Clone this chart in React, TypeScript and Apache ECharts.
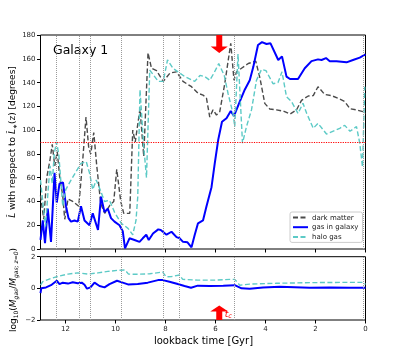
import React, { useEffect, useRef } from "react";
import * as echarts from "echarts";

// lookback-time axis
const tMax = 13.0;
const xTicks = [0, 2, 4, 6, 8, 10, 12];
// vertical event lines (Gyr)
const eventTimes = [12.36, 11.47, 11.02, 9.79, 8.08, 7.46, 5.24, 0.1];
const perpAngle = 90;
const tc = 5.85;

// top panel: angle [deg] vs lookback time [Gyr]
const darkMatter: [number, number][] = [
  [13.0, 45], [12.87, 25], [12.75, 60], [12.62, 75], [12.53, 88], [12.43, 70], [12.33, 82],
  [12.23, 60], [12.11, 45], [12.03, 25], [11.9, 42], [11.71, 40], [11.47, 36], [11.31, 75],
  [11.18, 111], [11.07, 85], [10.99, 80], [10.87, 98], [10.75, 70], [10.59, 38], [10.43, 30],
  [10.22, 37], [10.07, 40], [9.95, 67], [9.79, 40], [9.67, 30], [9.43, 30], [9.31, 100],
  [9.21, 90], [9.02, 118], [8.87, 78], [8.7, 165], [8.56, 152], [8.36, 150], [8.09, 141],
  [7.82, 148], [7.56, 149], [7.3, 141], [6.96, 136.5], [6.7, 131], [6.5, 129.5], [6.36, 126.7],
  [6.23, 111], [6.1, 117], [5.96, 112.7], [5.83, 115.5], [5.63, 139], [5.39, 173], [5.26, 142],
  [5.16, 149], [4.96, 152], [4.69, 156], [4.39, 158], [4.22, 143.6], [4.03, 122.5], [3.83, 117.7],
  [3.56, 117], [3.29, 116], [3.02, 113.5], [2.76, 117], [2.56, 125], [2.29, 128.7], [2.09, 129],
  [1.9, 136.5], [1.63, 130], [1.36, 129], [1.09, 126.7], [0.83, 124], [0.62, 118], [0.36, 117],
  [0.1, 115.5], [0.0, 114],
];
const gasInGalaxy: [number, number][] = [
  [13.0, 7.6], [12.91, 24], [12.82, 5], [12.71, 34], [12.58, 6], [12.44, 64], [12.35, 39],
  [12.24, 55], [12.1, 56], [11.98, 36], [11.88, 26], [11.78, 23], [11.64, 24], [11.51, 23],
  [11.38, 36], [11.24, 24], [11.04, 20], [10.91, 30], [10.7, 16], [10.58, 44], [10.44, 31],
  [10.31, 34], [10.18, 26], [10.04, 23], [9.84, 20], [9.71, 15], [9.62, 0.6], [9.44, 9],
  [9.24, 7.6], [9.04, 6], [8.91, 9], [8.77, 12], [8.67, 7.6], [8.5, 13], [8.29, 16.5],
  [8.19, 16], [7.96, 12], [7.76, 14.5], [7.56, 10], [7.43, 9], [7.3, 6], [7.12, 5.6],
  [6.96, 1.4], [6.83, 12], [6.7, 21.6], [6.5, 24], [6.36, 36], [6.16, 52], [6.03, 72],
  [5.89, 92], [5.74, 107], [5.56, 110], [5.39, 116], [5.26, 112], [5.03, 124], [4.83, 134],
  [4.63, 142], [4.49, 153], [4.3, 171.6], [4.14, 174], [3.96, 172.4], [3.8, 173], [3.49, 159],
  [3.34, 162], [3.16, 145], [3.02, 143], [2.7, 143], [2.43, 152], [2.16, 158], [1.9, 159.5],
  [1.76, 159], [1.58, 160.6], [1.43, 158], [1.16, 158], [0.76, 157], [0.5, 159], [0.23, 161],
  [0.0, 163.7],
];
const haloGas: [number, number][] = [
  [13.0, 58], [12.91, 40], [12.8, 19], [12.71, 45], [12.62, 70], [12.53, 55], [12.45, 80],
  [12.36, 90], [12.27, 80], [12.11, 36], [11.99, 50], [11.78, 58], [11.58, 65], [11.38, 72],
  [11.17, 73.5], [11.04, 64], [10.91, 50], [10.77, 58], [10.58, 48], [10.44, 40], [10.24, 41],
  [10.04, 31], [9.77, 21.6], [9.5, 17.4], [9.31, 12], [9.18, 24], [9.11, 44], [9.02, 134],
  [8.87, 86], [8.76, 60], [8.63, 150.5], [8.29, 141], [8.09, 141], [7.92, 159], [7.7, 152],
  [7.5, 149], [7.23, 145], [6.83, 141], [6.62, 146], [6.43, 145], [6.23, 142], [6.06, 148],
  [5.87, 156], [5.65, 146], [5.5, 131], [5.3, 114], [5.23, 103], [5.1, 164], [4.92, 89],
  [4.76, 103], [4.56, 117], [4.36, 142], [4.16, 151], [3.98, 150], [3.7, 139], [3.5, 140],
  [3.34, 149], [3.16, 128], [2.96, 124], [2.7, 114], [2.5, 122.5], [2.35, 114], [2.09, 101.5],
  [1.9, 105.7], [1.56, 96.7], [1.31, 99], [1.03, 101.5], [0.83, 104], [0.62, 99], [0.36, 103],
  [0.23, 89], [0.12, 69], [0.03, 136.5],
];

// bottom panel: log10(M_gas / M_gas,z=0)
const gasMassGalaxy: [number, number][] = [
  [13.0, -0.3], [12.97, 0], [12.78, 0.06], [12.58, 0.2], [12.35, 0.48], [12.24, 0.27],
  [12.11, 0.36], [11.9, 0.3], [11.71, 0.38], [11.51, 0.32], [11.35, 0.36], [11.24, 0.23],
  [11.14, -0.02], [11.0, 0.06], [10.84, 0.36], [10.64, 0.15], [10.44, 0.06], [10.24, 0.27],
  [9.94, 0.48], [9.71, 0.36], [9.5, 0.25], [9.11, 0.27], [8.71, 0.36], [8.3, 0.52],
  [8.11, 0.52], [7.84, 0.42], [7.51, 0.27], [7.24, 0.15], [6.98, 0.04], [6.71, 0.17],
  [6.23, 0.15], [5.69, 0.17], [5.23, 0.2], [4.96, 0], [4.63, -0.02], [4.1, 0.06], [3.43, 0.1],
  [2.83, 0.07], [2.23, 0.04], [1.43, 0.06], [0.62, 0.04], [0, 0.04],
];
const gasMassHalo: [number, number][] = [
  [13.0, 0.2], [12.91, 0.42], [12.58, 0.63], [12.24, 0.78], [11.9, 0.9], [11.51, 0.98],
  [11.11, 0.9], [10.7, 0.98], [10.31, 1.07], [9.91, 1.14], [9.62, 1.16], [9.48, 0.9],
  [9.11, 0.89], [8.63, 0.92], [8.11, 1.03], [7.98, 0.73], [7.75, 0.75], [7.44, 0.84],
  [7.31, 0.57], [6.71, 0.52], [6.04, 0.52], [5.42, 0.57], [5.23, 0.57], [5.03, 0.2],
  [4.63, 0.27], [3.56, 0.32], [2.23, 0.36], [0.62, 0.38], [0.12, 0.38], [0, 0.25],
];

const FONT = "DejaVu Sans";
const C_DM = "#4a4a4a";
const C_GAS = "#0000ff";
const C_HALO = "#5ccac6";

export default function App() {
  const ref = useRef<HTMLDivElement>(null);
  useEffect(() => {
    const chart = echarts.init(ref.current!, null, { renderer: "svg" });

    const xAxis = (gridIndex: number, showLabels: boolean) => ({
      type: "value",
      gridIndex,
      min: 0,
      max: tMax,
      inverse: true,
      axisLine: { show: false, onZero: false },
      axisTick: { show: true, length: 3.5, lineStyle: { color: "#000", width: 1 }, customValues: xTicks },
      axisLabel: {
        show: showLabels,
        customValues: xTicks,
        fontSize: 7,
        color: "#222",
        margin: 5,
        fontFamily: FONT,
      },
      splitLine: { show: false },
    });

    const vLines = eventTimes.map((t) => ({ xAxis: t }));
    const vLineStyle = { color: "#9a9a9a", type: "dotted", width: 1 };

    chart.setOption({
      animation: false,
      textStyle: { fontFamily: FONT },
      grid: [
        { left: 40.5, top: 35, width: 325, height: 214, show: true, borderColor: "#000", borderWidth: 1 },
        { left: 40.5, top: 256.7, width: 325, height: 63.3, show: true, borderColor: "#000", borderWidth: 1 },
      ],
      xAxis: [xAxis(0, false), xAxis(1, true)],
      yAxis: [
        {
          type: "value",
          gridIndex: 0,
          min: 0,
          max: 180,
          interval: 20,
          axisLine: { show: false, onZero: false },
          axisTick: { show: true, length: 3.5, lineStyle: { color: "#000" } },
          axisLabel: { fontSize: 7, color: "#222", margin: 5, fontFamily: FONT },
          splitLine: { show: false },
        },
        {
          type: "value",
          gridIndex: 1,
          min: -2,
          max: 2,
          interval: 2,
          axisLine: { show: false, onZero: false },
          axisTick: { show: true, length: 3.5, lineStyle: { color: "#000" } },
          axisLabel: {
            fontSize: 7,
            color: "#222",
            margin: 5,
            fontFamily: FONT,
            formatter: (v: number) => String(v).replace("-", "\u2212"),
          },
          splitLine: { show: false },
        },
      ],
      legend: {
        data: ["dark matter", "gas in galaxy", "halo gas"],
        orient: "vertical",
        left: 290,
        top: 212,
        itemWidth: 15,
        itemHeight: 8,
        itemGap: 2.7,
        padding: [2, 4, 2, 2],
        borderColor: "#cccccc",
        borderWidth: 1,
        borderRadius: 2,
        backgroundColor: "rgba(255,255,255,0.85)",
        itemStyle: { opacity: 0, borderWidth: 0 },
        textStyle: { fontSize: 7, color: "#222", fontFamily: FONT, padding: [0, 0, 0, -1] },
      },
      series: [
        {
          name: "dark matter",
          type: "line",
          xAxisIndex: 0,
          yAxisIndex: 0,
          data: darkMatter,
          showSymbol: false,
          symbol: "none",
          lineStyle: { color: C_DM, width: 1.4, type: [5, 2.5] },
          itemStyle: { color: C_DM },
          markLine: {
            silent: true,
            symbol: "none",
            label: { show: false },
            data: [
              ...vLines.map((d) => ({ ...d, lineStyle: vLineStyle })),
              { yAxis: perpAngle, lineStyle: { color: "#ff0000", type: "dotted", width: 1.2 } },
            ],
          },
        },
        {
          name: "gas in galaxy",
          type: "line",
          xAxisIndex: 0,
          yAxisIndex: 0,
          data: gasInGalaxy,
          showSymbol: false,
          symbol: "none",
          lineStyle: { color: C_GAS, width: 2 },
          itemStyle: { color: C_GAS },
        },
        {
          name: "halo gas",
          type: "line",
          xAxisIndex: 0,
          yAxisIndex: 0,
          data: haloGas,
          showSymbol: false,
          symbol: "none",
          lineStyle: { color: C_HALO, width: 1.4, type: [5, 2.5] },
          itemStyle: { color: C_HALO },
        },
        {
          name: "gas in galaxy",
          type: "line",
          xAxisIndex: 1,
          yAxisIndex: 1,
          data: gasMassGalaxy,
          showSymbol: false,
          symbol: "none",
          lineStyle: { color: C_GAS, width: 2 },
          itemStyle: { color: C_GAS },
          markLine: {
            silent: true,
            symbol: "none",
            label: { show: false },
            data: vLines.map((d) => ({ ...d, lineStyle: vLineStyle })),
          },
        },
        {
          name: "halo gas",
          type: "line",
          xAxisIndex: 1,
          yAxisIndex: 1,
          data: gasMassHalo,
          showSymbol: false,
          symbol: "none",
          lineStyle: { color: C_HALO, width: 1.4, type: [5, 2.5] },
          itemStyle: { color: C_HALO },
        },
      ],
    });

    // annotations positioned through the axes
    const topPt = chart.convertToPixel({ gridIndex: 0 }, [tc, 180]) as number[];
    const botPt = chart.convertToPixel({ gridIndex: 1 }, [tc, -2]) as number[];
    const px = topPt[0];
    const ty = topPt[1];
    const bx = botPt[0];
    const by = botPt[1];

    chart.setOption({
      graphic: [
        {
          type: "polygon",
          z: 100,
          shape: {
            points: [
              [px - 3, ty], [px + 3, ty], [px + 3, ty + 11.5], [px + 8.5, ty + 11.5],
              [px, ty + 18], [px - 8.5, ty + 11.5], [px - 3, ty + 11.5],
            ],
          },
          style: { fill: "#ff0000" },
        },
        {
          type: "polygon",
          z: 100,
          shape: {
            points: [
              [bx - 3, by], [bx + 3, by], [bx + 3, by - 8.5], [bx + 9, by - 8.5],
              [bx, by - 14.5], [bx - 9, by - 8.5], [bx - 3, by - 8.5],
            ],
          },
          style: { fill: "#ff0000" },
        },
        {
          type: "text",
          z: 100,
          x: bx + 5.5,
          y: by - 6,
          style: {
            text: "{i|t}{s|c}",
            align: "left",
            verticalAlign: "middle",
            rich: {
              i: { fontSize: 9, fontStyle: "italic", fill: "#ff0000", color: "#ff0000", fontFamily: FONT, lineHeight: 11, verticalAlign: "middle" },
              s: { fontSize: 6.5, fontStyle: "italic", fill: "#ff0000", color: "#ff0000", fontFamily: FONT, lineHeight: 6, verticalAlign: "bottom" },
            },
          },
        },
        {
          type: "text",
          x: 53,
          y: 49,
          style: {
            text: "Galaxy 1",
            fontSize: 12.5,
            fontFamily: FONT,
            fill: "#000",
            align: "left",
            verticalAlign: "middle",
          },
        },
        {
          type: "text",
          x: 12,
          y: 142,
          rotation: Math.PI / 2,
          style: {
            text: "{i|L\u0302} with repspect to {i|L\u0302}{s|\u2217}(z) [degrees]",
            fontSize: 9,
            fontFamily: FONT,
            fill: "#000",
            lineHeight: 11,
            align: "center",
            verticalAlign: "middle",
            rich: {
              i: { fontSize: 9, fontStyle: "italic", fontFamily: FONT, lineHeight: 11, verticalAlign: "middle" },
              s: { fontSize: 6, fontFamily: FONT, lineHeight: 6, verticalAlign: "bottom" },
            },
          },
        },
        {
          type: "text",
          x: 13,
          y: 290,
          rotation: Math.PI / 2,
          style: {
            text: "log{s|10}({i|M}{si|gas}/{i|M}{si|gas; z=0})",
            fontSize: 9,
            fontFamily: FONT,
            fill: "#000",
            lineHeight: 11,
            align: "center",
            verticalAlign: "middle",
            rich: {
              i: { fontSize: 9, fontStyle: "italic", fontFamily: FONT, lineHeight: 11, verticalAlign: "middle" },
              s: { fontSize: 6, fontFamily: FONT, lineHeight: 6, verticalAlign: "bottom" },
              si: { fontSize: 6, fontStyle: "italic", fontFamily: FONT, lineHeight: 6, verticalAlign: "bottom" },
            },
          },
        },
        {
          type: "text",
          x: 203.5,
          y: 340,
          style: {
            text: "lookback time [Gyr]",
            fontSize: 10,
            fontFamily: FONT,
            fill: "#000",
            align: "center",
            verticalAlign: "middle",
          },
        },
      ],
    });

    return () => chart.dispose();
  }, []);
  return <div ref={ref} style={{ position: "fixed", left: 0, top: 0, width: 407, height: 356 }} />;
}
